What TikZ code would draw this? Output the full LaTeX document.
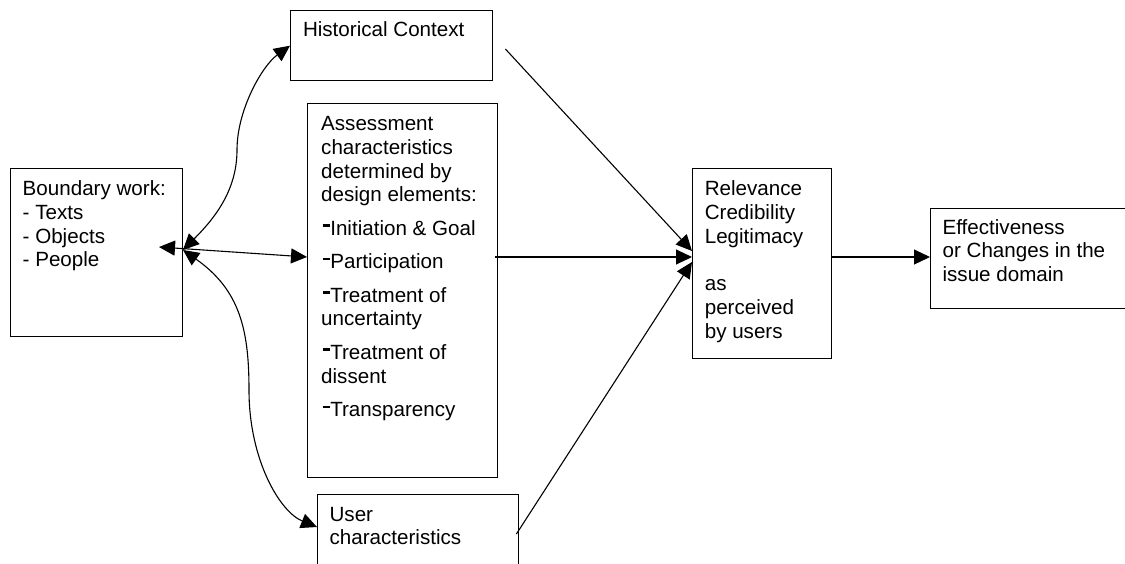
\documentclass[tikz,border=0pt]{standalone}
\usepackage{fontspec}
\setmainfont{Liberation Sans}
\usetikzlibrary{arrows.meta,calc}
\newcommand{\bdash}{\hspace*{1.5pt}\rule[0.4em]{0.34em}{0.13em}\hspace{0.6pt}}
\begin{document}
\begin{tikzpicture}[x=1pt,y=-1pt,
  >={Triangle[length=16pt,width=15pt]},
  box/.style={draw,line width=1.4pt,inner sep=0pt,anchor=north west},
  txt/.style={inner sep=0pt,anchor=base west,font=\fontsize{20.6}{23.8}\selectfont},
  conn/.style={line width=1.1pt}]
\useasboundingbox (0,0) rectangle (1125,563);
\clip (0,0) rectangle (1125,563);
% boxes
\node[box,minimum width=172pt,minimum height=168pt] (bw) at (10,168) {};
\node[box,minimum width=202pt,minimum height=70pt] (hc) at (290,10) {};
\node[box,minimum width=190pt,minimum height=374pt] (ac) at (307,103) {};
\node[box,minimum width=201pt,minimum height=90pt] (uc) at (317,494) {};
\node[box,minimum width=139pt,minimum height=190pt] (rcl) at (692,168) {};
\node[box,minimum width=210pt,minimum height=100pt] (eff) at (930,208) {};
% texts
\node[txt] (bwt) at (22.5,195.5) {\parbox[t]{155pt}{Boundary work:\\- Texts\\- Objects\\- People}};
\node[txt] (hct) at (302.8,36.5) {\parbox[t]{185pt}{Historical Context}};
\node[txt] (act) at (321,130.5) {\parbox[t]{172pt}{Assessment\\characteristics\\determined by\\design elements:\\[9.6pt]
\bdash Initiation \& Goal\\[9.6pt]\bdash Participation\\[9.6pt]\bdash Treatment of\\uncertainty\\[9.6pt]\bdash Treatment of\\dissent\\[9.6pt]\bdash Transparency}};
\node[txt] (uct) at (329.4,521) {\parbox[t]{185pt}{User\\characteristics}};
\node[txt] (rclt) at (704.6,195.6) {\parbox[t]{124pt}{Relevance\\Credibility\\Legitimacy\\[23.8pt]as\\perceived\\by users}};
\node[txt] (efft) at (942.4,234) {\parbox[t]{180pt}{Effectiveness\\or Changes in the\\issue domain}};
% free ends
\coordinate (jl) at (159,247);
\coordinate (jr) at (183,250);
\coordinate (hcs) at ($(hc.north east)+(12,39)$);
% left connectors
\draw[conn,<->] (jl) -- ($(ac.north west)+(0,154)$);
\draw[conn,<->] (jr) .. controls (215,218) and (237,190) .. (237,150)
   .. controls (237,110) and (262,66) .. (hc.west);
\draw[conn,<->] (jr) .. controls (240,290) and (249,330) .. (249,390)
   .. controls (249,460) and (280,512) .. ($(uc.north west)+(0,33)$);
% right connectors
\draw[conn,->] (hcs) -- ($(rcl.north west)+(0,83)$);
\draw[conn,->] ($(ac.north east)+(-3,154)$) -- ($(rcl.north west)+(0,89)$);
\draw[conn,->] ($(uc.north east)+(-3,40)$) -- ($(rcl.north west)+(0,94)$);
\draw[conn,->] ($(rcl.north east)+(0,89)$) -- ($(eff.north west)+(0,49)$);
\end{tikzpicture}
\end{document}
